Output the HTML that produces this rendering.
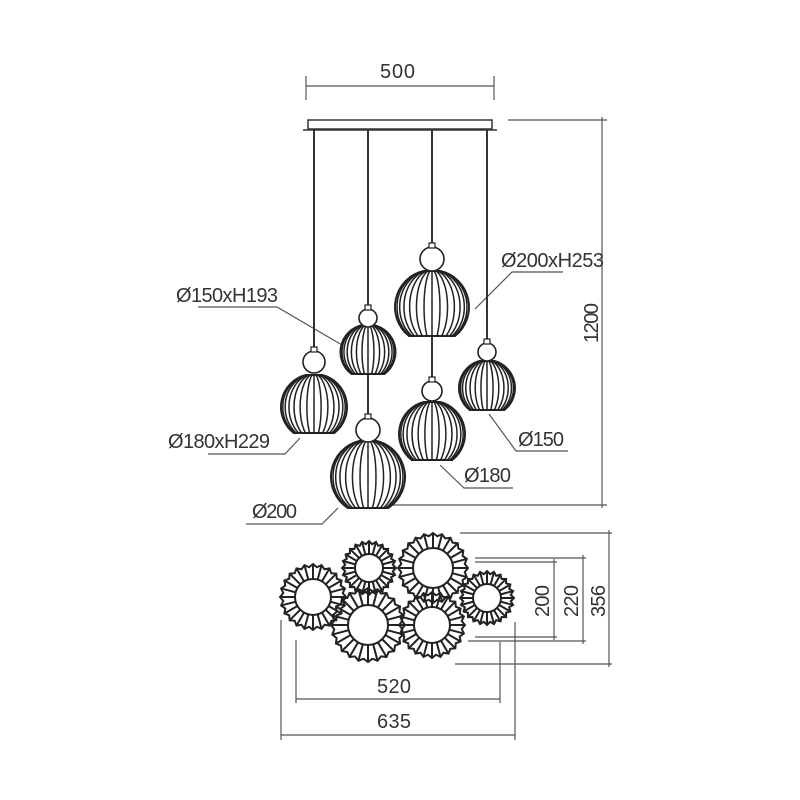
<!DOCTYPE html>
<html><head><meta charset="utf-8"><style>
html,body{margin:0;padding:0;background:#fff;}
svg{display:block;}
text{font-family:"Liberation Sans",sans-serif;font-size:20px;fill:#333;}
</style></head><body>
<svg id="s" width="800" height="800" viewBox="0 0 800 800" xmlns="http://www.w3.org/2000/svg">
<g stroke="#555" stroke-width="1.2" fill="none">
<line x1="306" y1="76" x2="306" y2="100"/><line x1="494" y1="76" x2="494" y2="100"/>
<line x1="306" y1="86" x2="494" y2="86"/>
<line x1="508" y1="120" x2="607" y2="120"/><line x1="345" y1="505" x2="607" y2="505"/>
<line x1="602" y1="117" x2="602" y2="508"/>
<polyline points="198,307 277,307 342,345"/>
<polyline points="208,454 285,454 300,438"/>
<polyline points="246,524 322,524 338,508"/>
<polyline points="563,272 512,272 475,309"/>
<polyline points="568,451 516,451 489,414"/>
<polyline points="513,488 464,488 440,465"/>
<line x1="460" y1="533" x2="612" y2="533"/><line x1="455" y1="664" x2="612" y2="664"/>
<line x1="609" y1="530" x2="609" y2="667"/>
<line x1="475" y1="558" x2="586" y2="558"/><line x1="468" y1="641" x2="586" y2="641"/>
<line x1="583" y1="555" x2="583" y2="644"/>
<line x1="475" y1="562" x2="557" y2="562"/><line x1="475" y1="637" x2="557" y2="637"/>
<line x1="554" y1="559" x2="554" y2="640"/>
<line x1="296" y1="640" x2="296" y2="703"/><line x1="500" y1="642" x2="500" y2="703"/>
<line x1="296" y1="699" x2="500" y2="699"/>
<line x1="281" y1="620" x2="281" y2="740"/><line x1="515" y1="622" x2="515" y2="740"/>
<line x1="281" y1="735" x2="515" y2="735"/>
</g>
<rect x="308" y="120" width="184" height="9" fill="#fff" stroke="#333" stroke-width="1.5"/>
<line x1="303" y1="130" x2="497" y2="130" stroke="#333" stroke-width="1.5"/>
<g stroke="#333" stroke-width="2">
<line x1="314" y1="130" x2="314" y2="352"/>
<line x1="368" y1="130" x2="368" y2="311"/>
<line x1="368" y1="374" x2="368" y2="420"/>
<line x1="432" y1="130" x2="432" y2="248"/>
<line x1="432" y1="336" x2="432" y2="381"/>
<line x1="487" y1="130" x2="487" y2="345"/>
</g>
<g id="pend"></g>
<g id="gears"></g>
<text x="176" y="302" textLength="102">Ø150xH193</text>
<text x="168" y="448" textLength="102">Ø180xH229</text>
<text x="252" y="518" textLength="45">Ø200</text>
<text x="501" y="267" textLength="103">Ø200xH253</text>
<text x="518" y="446" textLength="46">Ø150</text>
<text x="464" y="482" textLength="47">Ø180</text>
<text x="380" y="78" textLength="35">500</text>
<text transform="translate(598,343) rotate(-90)" textLength="40">1200</text>
<text transform="translate(549,617) rotate(-90)" textLength="32">200</text>
<text transform="translate(578,617) rotate(-90)" textLength="32">220</text>
<text transform="translate(605,617) rotate(-90)" textLength="32">356</text>
<text x="377" y="693" textLength="34">520</text>
<text x="377" y="728" textLength="34">635</text>
</svg>
<script>
var NS="http://www.w3.org/2000/svg";
function el(p,t,a){var e=document.createElementNS(NS,t);for(var k in a)e.setAttribute(k,a[k]);p.appendChild(e);return e;}
var pend=document.getElementById('pend');
var P=[[314,407,33,375,433,362,11],[368,352,27.5,325,374,318,9],[368,477,37,441,508,430,12],
[432,307,37,271,336,259,12],[432,434,33,402,460,391,10],[487,388,28,361,410,352,9]];
P.forEach(function(p,i){
 var cx=p[0],cy=p[1],R=p[2],t=p[3],b=p[4];
 var hw=Math.sqrt(R*R-(b-cy)*(b-cy)), tw=Math.sqrt(Math.max(0,R*R-(t-cy)*(t-cy)));
 var d="M"+(cx-tw)+","+t+" A"+R+","+R+" 0 0,0 "+(cx-hw)+","+b+" L"+(cx+hw)+","+b+" A"+R+","+R+" 0 0,0 "+(cx+tw)+","+t+" Z";
 var cid="c"+i;var cp=el(pend,'clipPath',{id:cid});el(cp,'path',{d:d});
 el(pend,'path',{d:d,fill:'#fff',stroke:'#222','stroke-width':2});
 var g=el(pend,'g',{'clip-path':'url(#'+cid+')',stroke:'#222','stroke-width':1.5,fill:'none'});
 var n=14;for(var k=1;k<n;k++){var th=-Math.PI/2+Math.PI*k/n;var s=Math.sin(th);
  if(Math.abs(s)<0.01){el(g,'line',{x1:cx,y1:t-2,x2:cx,y2:b+2});}
  else{var rx=Math.abs(s)*R*0.97;
   var sx=s>0?1:-1;
   el(g,'path',{d:"M"+cx+","+(cy-R)+" A"+rx+","+R+" 0 0,"+(s>0?1:0)+" "+cx+","+(cy+R)});}
 }
 el(pend,'circle',{cx:cx,cy:p[5],r:p[6],fill:'#fff',stroke:'#222','stroke-width':1.6});
 el(pend,'rect',{x:cx-3,y:p[5]-p[6]-4,width:6,height:5,fill:'#fff',stroke:'#222','stroke-width':1.2});
});
var gears=document.getElementById('gears');
var G=[[313,597,33,18],[369,568,27,14],[433,568,35,20],[487,598,27,14],[368,625,37,20],[432,625,33,18]];
G.forEach(function(q){
 var cx=q[0],cy=q[1],ro=q[2],ri=q[3],n=24;
 var g=el(gears,'g',{stroke:'#222','stroke-width':2,fill:'none'});
 var pts=[];
 for(var k=0;k<n;k++){var a=2*Math.PI*k/n,a2=a+Math.PI/n;
  el(g,'line',{x1:cx+ri*Math.cos(a),y1:cy+ri*Math.sin(a),x2:cx+ro*Math.cos(a),y2:cy+ro*Math.sin(a)});
  pts.push((cx+ro*Math.cos(a))+","+(cy+ro*Math.sin(a)));
  var rm=ro-3;pts.push((cx+rm*Math.cos(a2))+","+(cy+rm*Math.sin(a2)));}
 el(g,'polygon',{points:pts.join(' ')});
 el(g,'circle',{cx:cx,cy:cy,r:ri,fill:'#fff'});
});
</script>
</body></html>
